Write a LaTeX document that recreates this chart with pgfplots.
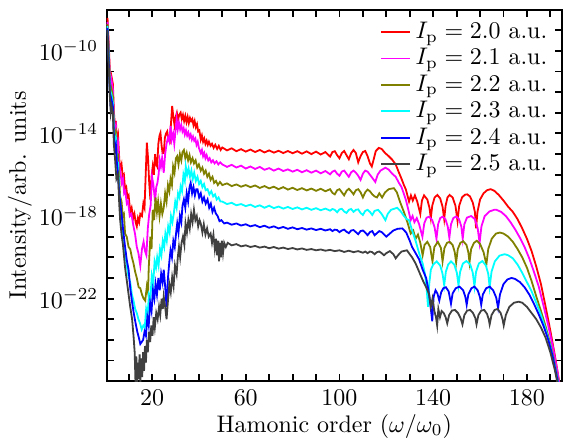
\documentclass[border=0pt]{standalone}
\usepackage{pgfplots}
\pgfplotsset{compat=1.18}

\definecolor{cred}{RGB}{255,0,0}
\definecolor{cmag}{RGB}{255,0,255}
\definecolor{colive}{RGB}{128,128,0}
\definecolor{ccyan}{RGB}{0,255,255}
\definecolor{cblue}{RGB}{0,0,255}
\definecolor{cgray}{RGB}{64,64,64}

\begin{document}
\begin{tikzpicture}
\begin{axis}[
    scale only axis,
    width=190pt, height=155pt,
    xmin=0.6, xmax=195,
    ymin=-26, ymax=-8,
    xtick={20,60,100,140,180},
    minor xtick={10,20,...,190},
    ytick={-22,-18,-14,-10},
    yticklabels={$10^{-22}$,$10^{-18}$,$10^{-14}$,$10^{-10}$},
    minor ytick={-26,-25,...,-8},
    tick align=inside,
    major tick length=3pt, minor tick length=3pt,
    axis line style={line width=0.8pt},
    every tick/.style={line width=0.8pt, black},
    xlabel={Hamonic order ($\omega/\omega_0$)},
    ylabel={Intensity/arb. units},
    xlabel style={yshift=3pt},
    ylabel style={yshift=-4pt},
    legend style={at={(rel axis cs:1,1)}, anchor=north east, draw=none, fill=none,
        row sep=-1.3pt, font=\normalsize, xshift=-1pt, yshift=-1pt},
    legend cell align=left,
    legend image code/.code={\draw[#1] (0cm,0cm) -- (0.42cm,0cm);},
    every axis plot/.append style={line width=0.75pt},
]
% red, Ip = 2.0
\addplot[cred] coordinates {
(1,-8.4)(1.5,-9.6)(2,-11.0)(2.4,-11.9)(2.8,-11.3)(3.3,-11.6)(3.7,-12.9)(4.2,-13.7)(4.6,-13.4)(5,-14.4)(5.5,-14.1)(6,-15.2)(6.4,-15.75)(7,-15.5)(7.5,-16.1)(8,-16.0)(8.5,-16.7)(9,-16.6)(9.5,-17.1)(10,-17.0)(10.7,-17.8)(11.3,-17.6)(12,-18.1)(12.5,-17.9)(13,-18.3)(13.5,-18.5)(14,-18.1)(14.5,-18.3)(15,-17.9)(15.7,-18.0)(16.3,-17.4)(16.8,-17.6)(17.3,-16.0)(17.8,-14.45)(18.3,-15.2)(18.8,-16.4)(19.3,-17.2)(19.8,-16.1)(20.3,-15.6)(20.8,-16.0)(21.3,-15.0)(21.8,-15.5)(22.2,-15.6)(22.7,-14.5)(23.2,-14.1)(23.6,-13.97)(24.1,-14.6)(24.5,-14.95)(25,-14.95)(25.5,-14.2)(26,-14.0)(26.5,-13.9)(27,-14.3)(27.6,-14.4)(28.1,-13.5)(28.6,-12.67)(29.1,-13.2)(29.6,-13.6)(30.1,-13.2)(30.6,-13.0)(31.1,-13.35)(31.6,-13.1)(32.2,-12.99)(32.7,-13.3)(33.2,-13.1)(33.7,-13.4)(34.2,-13.15)(34.7,-13.45)(35.2,-13.2)(35.7,-13.5)(36.2,-13.25)(36.7,-13.4)(37.2,-13.3)(37.7,-13.6)(38.2,-13.4)(38.7,-13.7)(39.2,-13.55)(39.7,-13.9)(40.2,-13.85)(40.8,-14.3)(41.3,-14.1)(41.8,-14.4)(42.3,-14.25)(42.8,-14.5)(43.3,-14.35)(43.8,-14.55)(44.3,-14.4)(45,-14.6)(45.6,-14.5)(46.3,-14.7)(47,-14.55)(47.8,-14.75)(48.5,-14.6)(49.3,-14.8)(50,-14.68)
(52,-14.82)(54,-14.72)(56,-14.86)(58,-14.76)(60,-14.88)(62,-14.78)(64,-14.9)(66,-14.8)(68,-14.92)(70,-14.82)(72,-14.93)(74,-14.84)(76,-14.95)(78,-14.85)(80,-14.96)(82,-14.86)(84,-14.98)(86,-14.87)(88,-15.0)(90,-14.88)(92,-15.02)(94,-14.9)(96,-15.12)(97,-14.9)(98,-14.86)(99,-15.05)(100,-15.2)(101,-14.95)(102,-14.85)(103,-15.05)(104,-15.25)(105,-14.95)(106,-14.8)(107,-14.95)(108,-15.4)(109,-15.1)(110,-14.9)(111,-14.85)(112,-15.1)(113,-15.45)(113.8,-15.6)(114.5,-15.3)(115.5,-14.85)(116.8,-14.7)(118,-14.75)(119.5,-14.95)(121,-15.1)(122.5,-15.27)(124,-15.5)(125.4,-15.9)(126.5,-16.2)(127.5,-16.5)(128.3,-16.7)(129.7,-17.3)
(130.5,-17.0)(131.3,-17.25)(132.2,-17.0)(133.2,-17.3)(134.5,-17.9)(135.2,-17.25)(136.1,-17.0)(137.5,-17.2)(138.4,-17.6)(139,-18.1)(139.6,-17.5)(140.6,-17.1)(141.8,-16.98)(143,-17.15)(144,-17.55)(144.7,-18.15)(145.3,-17.5)(146.1,-17.1)(147,-16.98)(148.3,-17.1)(149.5,-17.5)(150.4,-18.25)(151.1,-17.5)(152.3,-17.1)(153.5,-16.97)(154.5,-16.95)(155.7,-17.05)(156.9,-17.35)(157.8,-17.8)(158.3,-18.6)(158.9,-17.8)(160,-17.2)(161.5,-16.9)(163,-16.75)(164.5,-16.7)(166,-16.77)(168,-16.98)(170,-17.25)(172,-17.55)(174,-17.8)(176,-18.15)(178,-18.6)(180,-19.1)(182,-19.7)(184,-20.45)(186,-21.3)(188,-22.4)(190,-23.55)(192,-24.8)(194,-26.2)
};
% magenta, Ip = 2.1
\addplot[cmag] coordinates {
(1,-8.6)(1.5,-9.8)(2,-11.3)(2.4,-12.1)(2.8,-11.5)(3.3,-11.9)(3.7,-13.1)(4.2,-13.9)(4.6,-13.7)(5,-14.8)(5.5,-14.5)(6,-15.5)(6.5,-15.9)(7.1,-16.4)(7.6,-16.2)(8.1,-16.9)(8.6,-16.8)(9.25,-17.4)(9.8,-17.3)(10.5,-18.0)(11.2,-17.9)(12.1,-18.5)(12.8,-18.9)(13.5,-19.5)(14.2,-19.8)(15,-20.4)(15.7,-19.6)(16.4,-19.25)(17,-19.7)(17.6,-19.9)(18.2,-18.6)(18.8,-17.9)(19.4,-17.5)(20,-16.1)(20.6,-16.5)(21.3,-17.3)(21.8,-16.6)(22.3,-16.4)(22.8,-16.0)(23.3,-15.3)(23.8,-15.6)(24.3,-15.2)(25,-15.9)(25.6,-15.0)(26.2,-14.5)(26.8,-14.2)(27.4,-14.4)(27.9,-13.64)(28.4,-14.3)(29,-14.0)(29.5,-14.5)(30,-13.9)(30.5,-13.3)(31,-13.8)(31.5,-13.48)(32,-13.8)(32.5,-13.6)(33,-13.9)(33.5,-13.75)(34,-14.05)(34.5,-13.85)(35,-14.1)(35.5,-13.95)(36,-14.2)(36.5,-14.05)(37,-14.3)(37.5,-14.15)(38,-14.35)(38.5,-14.25)(39,-14.55)(39.5,-14.4)(40,-14.7)(40.8,-14.95)(41.3,-14.8)(41.8,-15.1)(42.3,-14.95)(42.8,-15.2)(43.3,-15.05)(44,-15.3)(44.6,-15.2)(45.3,-15.4)(46,-15.3)(46.7,-15.45)(47.5,-15.35)(48.3,-15.5)(49.1,-15.4)(50,-15.5)
(52,-15.62)(54,-15.52)(56,-15.65)(58,-15.56)(60,-15.7)(62,-15.6)(64,-15.72)(66,-15.62)(68,-15.76)(70,-15.68)(72,-15.8)(74,-15.7)(76,-15.82)(78,-15.74)(80,-15.85)(82,-15.76)(84,-15.88)(86,-15.78)(88,-15.9)(90,-15.8)(92,-15.93)(94,-15.82)(96,-15.98)(97,-15.85)(98,-15.8)(99,-15.95)(100,-16.05)(101,-15.85)(102,-15.8)(103,-15.95)(104,-16.1)(105,-15.88)(106,-15.8)(107,-15.9)(108,-16.05)(109,-16.25)(110,-15.95)(111,-15.8)(112,-15.85)(113,-16.0)(114,-16.15)(115.3,-16.35)(116.3,-16.0)(117.5,-15.8)(119.6,-15.66)(121,-15.75)(122.5,-15.95)(124,-16.1)(125.4,-16.4)(126.5,-16.6)(128.3,-17.2)(129.4,-17.7)(130.4,-18.2)
(131.2,-18.0)(132,-18.3)(133,-18.1)(134,-18.4)(135.4,-19.0)(136.2,-18.35)(137.2,-18.08)(138.3,-18.03)(139.6,-18.2)(140.6,-18.55)(141.4,-19.1)(142.1,-18.4)(143,-18.1)(144,-18.03)(145.2,-18.15)(146.2,-18.5)(146.9,-19.05)(147.6,-18.4)(148.6,-18.1)(149.8,-18.02)(151,-18.15)(152,-18.5)(152.6,-19.1)(153.3,-18.4)(154.4,-18.08)(156.2,-18.0)(157.8,-18.15)(159,-18.6)(159.8,-19.3)(160.6,-18.5)(162,-18.0)(164,-17.78)(166,-17.7)(167,-17.7)(169,-17.8)(171,-18.0)(173,-18.3)(175,-18.65)(177,-19.05)(179,-19.5)(181,-20.05)(183,-20.7)(185,-21.4)(187,-22.3)(189,-23.25)(191,-24.3)(193,-25.5)(194,-26.2)
};
% olive, Ip = 2.2
\addplot[colive] coordinates {
(1,-8.7)(1.5,-10.0)(2,-11.5)(2.4,-12.3)(2.8,-11.9)(3.3,-12.2)(3.7,-13.4)(4.2,-14.2)(4.6,-14.0)(5,-15.2)(5.5,-15.1)(6,-16.2)(6.4,-17.06)(7,-17.3)(7.5,-18.0)(8,-17.9)(8.5,-18.85)(9.2,-19.0)(10,-19.5)(10.7,-19.6)(11.4,-20.0)(12.1,-20.3)(12.8,-20.7)(13.5,-21.0)(14.3,-21.45)(15,-21.5)(15.7,-21.8)(16.4,-22.0)(17.1,-22.1)(17.8,-21.4)(18.3,-21.7)(18.6,-20.5)(19.3,-19.0)(19.8,-19.6)(20.3,-17.7)(20.9,-18.2)(21.5,-17.1)(22.1,-17.8)(22.6,-17.3)(23.2,-18.0)(23.8,-17.4)(24.4,-17.9)(25,-17.6)(25.6,-16.9)(26.2,-17.3)(26.8,-16.5)(27.4,-16.8)(27.9,-16.2)(28.5,-16.5)(29,-15.6)(29.6,-15.9)(30.2,-15.2)(30.75,-15.1)(31.3,-15.5)(31.9,-15.0)(32.5,-15.3)(33,-14.9)(33.6,-14.8)(34.2,-15.2)(34.8,-14.95)(35.4,-15.3)(36,-15.05)(36.6,-15.4)(37.3,-15.2)(37.9,-15.45)(38.6,-15.3)(39.3,-15.65)(40,-15.5)(40.8,-15.8)(41.5,-15.65)(42.2,-15.95)(42.9,-15.8)(43.6,-16.1)(44.3,-15.95)(45,-16.25)(45.8,-16.1)(46.5,-16.4)(47.3,-16.3)(48.1,-16.5)(49,-16.35)(50,-16.5)
(52,-16.42)(54,-16.55)(56,-16.47)(58,-16.58)(60,-16.5)(62,-16.6)(64,-16.52)(66,-16.64)(68,-16.55)(70,-16.66)(72,-16.58)(74,-16.7)(76,-16.6)(78,-16.72)(80,-16.63)(82,-16.74)(84,-16.65)(86,-16.76)(88,-16.67)(90,-16.78)(92,-16.68)(94,-16.8)(96,-16.7)(97,-16.88)(98,-16.95)(99,-16.75)(100,-16.7)(101,-16.85)(102,-17.0)(103,-16.78)(104,-16.68)(105,-16.8)(106,-16.95)(107,-16.75)(108,-16.7)(109,-16.85)(110,-17.1)(111,-16.85)(112,-16.72)(113,-16.8)(114,-16.95)(115,-17.05)(116,-17.1)(117,-16.9)(118.2,-17.1)(119.5,-16.85)(121,-16.7)(123.2,-16.65)(124.5,-16.85)(125.8,-17.3)(127.5,-17.8)(129,-18.3)(130.4,-18.85)
(131.5,-18.7)(132.5,-19.1)(133.5,-18.9)(134.5,-19.3)(135.5,-19.9)(136.3,-19.4)(137.5,-19.25)(138.7,-19.5)(139.7,-20.2)(140.5,-19.5)(142,-19.25)(143.3,-19.55)(144,-20.2)(144.8,-19.55)(145.9,-19.3)(147,-19.25)(148.3,-19.4)(149.2,-19.75)(149.8,-20.25)(150.5,-19.6)(151.6,-19.3)(152.8,-19.22)(154.2,-19.4)(155,-19.75)(155.5,-20.25)(156.2,-19.6)(157.4,-19.3)(158.6,-19.2)(160,-19.35)(161.5,-19.75)(162.7,-20.35)(163.5,-19.6)(165,-19.1)(166.8,-18.85)(168.5,-18.8)(170,-18.85)(172,-19.0)(174,-19.25)(176,-19.6)(178,-20.0)(180,-20.5)(182,-21.15)(184,-21.9)(186,-22.6)(188,-23.35)(190,-24.2)(192,-25.2)(193.7,-26.2)
};
% cyan, Ip = 2.3
\addplot[ccyan] coordinates {
(1,-8.8)(1.5,-10.2)(2,-11.8)(2.4,-12.6)(2.8,-12.2)(3.3,-12.5)(3.7,-13.7)(4.2,-14.5)(4.6,-14.3)(5,-15.6)(5.5,-15.5)(6,-16.8)(6.4,-17.55)(7.1,-18.6)(7.8,-19.5)(8.5,-19.8)(9.2,-20.4)(10,-20.96)(10.7,-21.2)(11.4,-21.8)(12.1,-22.1)(12.8,-22.5)(13.5,-22.7)(14.2,-23.0)(14.9,-23.2)(15.6,-23.5)(16.3,-23.3)(16.9,-23.4)(17.5,-22.5)(18.1,-22.8)(18.7,-21.8)(19.3,-22.0)(19.9,-20.9)(20.5,-21.3)(21.1,-20.2)(21.7,-20.5)(22.2,-20.0)(22.8,-20.4)(23.4,-19.6)(24,-19.9)(24.6,-19.2)(25.2,-19.5)(25.7,-18.85)(26.3,-19.2)(26.9,-18.5)(27.5,-18.8)(28.1,-18.0)(28.7,-18.3)(29.3,-17.87)(29.9,-17.3)(30.5,-17.6)(31.1,-16.9)(31.7,-17.1)(32.2,-16.57)(32.8,-16.8)(33.4,-16.0)(34,-16.3)(34.4,-15.6)(35,-16.0)(35.6,-15.7)(36.2,-16.1)(36.8,-15.8)(37.4,-16.2)(38,-15.9)(38.7,-16.3)(39.4,-16.1)(40.1,-16.45)(40.8,-16.3)(41.5,-16.6)(42.2,-16.45)(42.9,-16.75)(43.7,-16.7)(44.5,-16.95)(45.3,-16.8)(46.1,-17.05)(46.9,-16.95)(47.6,-17.2)(48.4,-17.1)(49.2,-17.3)(50,-17.3)
(52,-17.42)(54,-17.36)(56,-17.48)(58,-17.42)(60,-17.52)(62,-17.45)(64,-17.56)(66,-17.48)(68,-17.6)(70,-17.5)(72,-17.62)(74,-17.54)(76,-17.64)(78,-17.56)(80,-17.66)(82,-17.58)(84,-17.68)(86,-17.6)(88,-17.7)(90,-17.62)(92,-17.72)(94,-17.64)(96,-17.74)(97,-17.66)(98,-17.7)(99,-17.82)(100,-17.68)(101,-17.65)(102,-17.78)(103,-17.85)(104,-17.7)(105,-17.66)(106,-17.8)(107,-17.7)(108,-17.68)(109,-17.85)(110,-17.95)(111,-17.75)(112,-17.7)(113,-17.8)(114,-17.95)(115,-17.75)(116.5,-17.7)(118,-17.9)(119.6,-18.2)(120.6,-17.9)(122,-17.7)(124.6,-17.6)(126,-17.75)(127.5,-18.0)(128.7,-18.15)(129.7,-18.2)(131,-18.7)(132.5,-19.2)(134,-19.8)(135.5,-20.3)(136.5,-20.8)(137.2,-21.5)(137.8,-22.4)
(138.3,-21.3)(139,-20.6)(140,-20.35)(141.5,-20.2)(143,-20.4)(144,-20.8)(144.7,-21.35)(145.4,-20.7)(146.4,-20.35)(147.6,-20.2)(149,-20.35)(150.1,-20.75)(150.8,-21.35)(151.5,-20.7)(152.7,-20.3)(154.2,-20.18)(155.8,-20.35)(156.9,-20.75)(157.6,-21.4)(158.3,-20.7)(159.5,-20.3)(161,-20.18)(162.5,-20.4)(163.5,-20.8)(164.1,-21.45)(164.9,-20.7)(166.3,-20.2)(168.3,-19.92)(170.5,-19.85)(172,-19.9)(174,-20.05)(176,-20.35)(178,-20.75)(180,-21.2)(182,-21.65)(184,-22.2)(186,-22.8)(188,-23.5)(190,-24.3)(192,-25.3)(193.5,-26.2)
};
% blue, Ip = 2.4
\addplot[cblue] coordinates {
(1,-8.9)(1.5,-10.4)(2,-12.0)(2.4,-12.8)(2.8,-12.4)(3.3,-12.7)(3.7,-14.0)(4.2,-14.8)(4.6,-14.6)(5,-15.4)(5.5,-16.0)(6,-16.9)(6.5,-17.4)(7.1,-18.0)(7.7,-18.7)(8.4,-19.4)(9.25,-20.15)(10,-20.6)(10.7,-21.5)(11.4,-22.1)(12.2,-22.7)(13,-23.2)(13.7,-23.6)(14.4,-23.9)(15,-24.2)(15.6,-24.1)(16.2,-24.0)(16.8,-23.6)(17.4,-23.8)(18,-22.9)(18.6,-23.3)(19.2,-22.2)(19.8,-22.6)(20.4,-21.6)(21,-22.0)(21.5,-21.3)(22.1,-21.8)(22.7,-21.0)(23.3,-21.6)(23.9,-20.8)(24.5,-21.2)(25,-20.6)(25.6,-21.4)(26.2,-22.4)(26.8,-21.0)(27.4,-20.2)(27.9,-19.66)(28.5,-20.0)(29.1,-19.2)(29.7,-19.5)(30.3,-18.8)(30.75,-18.36)(31.3,-18.8)(31.9,-18.0)(32.5,-18.3)(33,-17.5)(33.6,-17.2)(34.2,-17.6)(34.8,-16.9)(35.4,-17.3)(36,-16.6)(36.5,-16.4)(37.1,-16.9)(37.7,-16.6)(38.3,-17.0)(38.9,-16.7)(39.4,-16.7)(40.1,-17.1)(40.8,-16.9)(41.5,-17.3)(42.2,-17.1)(42.9,-17.4)(43.7,-17.2)(44.4,-17.6)(45.1,-17.4)(45.8,-17.8)(46.5,-17.6)(47.2,-17.87)(48,-18.0)(48.8,-18.25)(49.6,-18.2)(50.8,-18.36)
(52,-18.32)(54,-18.42)(56,-18.36)(58,-18.46)(60,-18.4)(62,-18.5)(64,-18.44)(66,-18.54)(68,-18.47)(70,-18.57)(72,-18.5)(74,-18.6)(76,-18.53)(78,-18.62)(80,-18.55)(82,-18.64)(84,-18.58)(86,-18.66)(88,-18.6)(90,-18.68)(92,-18.62)(94,-18.7)(96,-18.64)(97,-18.73)(98,-18.66)(99,-18.68)(100,-18.78)(101,-18.7)(102,-18.66)(103,-18.76)(104,-18.83)(105,-18.7)(106,-18.68)(107,-18.78)(108,-18.88)(109,-18.73)(110,-18.7)(111,-18.8)(112,-18.93)(113,-18.78)(114,-18.73)(115,-18.93)(116,-18.83)(117,-18.73)(118,-18.78)(120,-19.0)(121.5,-18.85)(123,-18.7)(124.8,-18.62)(126.8,-18.6)(128.5,-18.8)(130,-19.2)(131,-19.5)(132.5,-19.8)(134,-20.1)(135.5,-20.6)(137,-21.0)(138,-21.6)(138.8,-22.3)(139.6,-23.1)
(140.2,-21.9)(141,-21.6)(141.8,-21.75)(142.6,-22.1)(143.4,-21.7)(144.3,-21.5)(145.4,-21.45)(146.6,-21.65)(147.6,-22.25)(148.3,-21.75)(149.6,-21.5)(151.2,-21.42)(152.8,-21.6)(153.7,-21.9)(154.3,-22.3)(155,-21.8)(156.3,-21.5)(157.6,-21.42)(159,-21.6)(160,-21.95)(160.5,-22.3)(161.2,-21.8)(162.6,-21.5)(164.1,-21.42)(165.6,-21.6)(166.9,-21.95)(167.7,-22.45)(168.5,-21.8)(170,-21.3)(171.7,-21.07)(173.5,-21.0)(175,-21.05)(177,-21.2)(179,-21.45)(181,-21.8)(183,-22.25)(185,-22.75)(187,-23.3)(189,-23.95)(191,-24.8)(193,-25.9)(193.4,-26.2)
};
% dark grey, Ip = 2.5
\addplot[cgray] coordinates {
(1,-9.0)(1.5,-10.6)(2,-12.2)(2.4,-13.0)(2.8,-12.7)(3.3,-13.0)(3.7,-14.5)(4.2,-15.2)(4.8,-16.2)(5.5,-16.0)(6,-17.4)(6.4,-18.2)(7,-18.9)(7.6,-19.4)(8.5,-20.5)(9.2,-21.1)(10,-21.8)(10.7,-22.4)(11.5,-23.0)(12.1,-23.8)(12.6,-24.6)(13,-26.3)(13.3,-24.8)(13.6,-26.3)(14,-25.1)(14.3,-25.9)(14.7,-24.7)(15,-26.2)(15.4,-24.9)(15.8,-25.8)(16.2,-24.6)(16.6,-25.5)(17,-24.3)(17.4,-25.1)(17.8,-24.0)(18.2,-24.6)(18.7,-23.6)(19.2,-24.1)(19.7,-23.3)(20.2,-23.8)(20.7,-22.9)(21.2,-23.4)(21.8,-22.7)(22.4,-23.0)(23,-22.4)(23.5,-22.8)(24.1,-22.0)(24.6,-22.5)(25,-21.9)(25.6,-22.4)(26.2,-23.0)(26.8,-22.1)(27.4,-21.3)(28,-21.7)(28.6,-20.96)(29.2,-21.4)(29.8,-20.4)(30.5,-20.8)(31,-20.0)(31.5,-19.5)(32,-20.0)(32.6,-19.3)(33.2,-19.0)(33.8,-19.4)(34.3,-18.36)(34.9,-18.8)(35.5,-18.2)(36.1,-18.6)(36.7,-17.9)(37.3,-18.3)(37.9,-17.7)(38.5,-18.2)(39.1,-18.0)(39.7,-18.5)(40.3,-18.2)(40.8,-18.36)(41.5,-18.8)(42.1,-18.4)(42.8,-18.9)(43.5,-18.6)(44.2,-19.0)(45,-18.85)(45.6,-19.3)(46.2,-18.9)(46.8,-19.6)(47.3,-19.1)(47.8,-19.9)(48.3,-19.2)(48.6,-20.2)(49,-19.3)(49.4,-20.0)(49.8,-19.2)(50.3,-19.8)(50.8,-19.3)(51.5,-19.5)(52.3,-19.3)
(54,-19.42)(56,-19.36)(58,-19.47)(60,-19.42)(62,-19.5)(64,-19.45)(66,-19.53)(68,-19.48)(70,-19.56)(72,-19.5)(74,-19.58)(76,-19.53)(78,-19.6)(80,-19.55)(82,-19.62)(84,-19.57)(86,-19.64)(88,-19.6)(90,-19.66)(92,-19.62)(94,-19.68)(96,-19.64)(98,-19.7)(100,-19.66)(102,-19.74)(104,-19.68)(106,-19.75)(108,-19.7)(110,-19.78)(111,-19.72)(112,-19.8)(113,-19.72)(114,-19.75)(115,-19.85)(116,-19.75)(117,-19.72)(118,-19.8)(119,-19.9)(120,-19.8)(121.5,-19.7)(123,-19.85)(124,-20.05)(125,-19.9)(126.5,-19.72)(128.8,-19.66)(130,-19.85)(131,-20.0)(132.5,-20.3)(134,-20.7)(135.5,-21.1)(137,-21.45)(138.3,-21.8)(139,-22.4)(139.7,-22.0)(140.5,-22.6)(141.2,-22.9)(141.7,-23.3)
(142.2,-22.5)(142.9,-22.9)(143.6,-22.6)(144.5,-22.7)(145.3,-22.9)(146,-23.2)(146.8,-22.8)(148,-22.58)(149.3,-22.55)(150.6,-22.7)(151.7,-22.95)(152.5,-23.25)(153.3,-22.8)(154.5,-22.58)(155.8,-22.55)(157,-22.7)(158,-22.95)(158.5,-23.25)(159.3,-22.8)(160.5,-22.58)(161.8,-22.55)(163,-22.75)(163.7,-23.0)(164.1,-23.25)(164.9,-22.8)(166.2,-22.55)(167.5,-22.5)(168.8,-22.7)(169.6,-23.0)(170.1,-23.3)(171,-22.8)(172.5,-22.4)(174.5,-22.2)(176.5,-22.15)(178,-22.2)(180,-22.4)(182,-22.7)(184,-23.0)(186,-23.4)(188,-23.9)(190,-24.6)(192,-25.5)(193.2,-26.2)
};
\legend{$I_{\mathrm{p}}=2.0$ a.u.,$I_{\mathrm{p}}=2.1$ a.u.,$I_{\mathrm{p}}=2.2$ a.u.,$I_{\mathrm{p}}=2.3$ a.u.,$I_{\mathrm{p}}=2.4$ a.u.,$I_{\mathrm{p}}=2.5$ a.u.}
\end{axis}
\path ([yshift=4pt]current axis.north);
\end{tikzpicture}
\end{document}
